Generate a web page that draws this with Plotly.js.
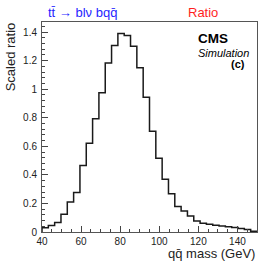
<!DOCTYPE html>
<html><head><meta charset="utf-8">
<script src="https://cdn.plot.ly/plotly-3.0.1.min.js"></script>
<style>html,body{margin:0;padding:0;background:#fff;}#chart{width:266px;height:266px;}</style>
</head><body><div id="chart"></div>
<script>
// Histogram settings
const xMin = 40, xMax = 150, nBins = 34;
// Scaled ratio per bin
const values = [0.030, 0.045, 0.067, 0.125, 0.210, 0.277, 0.465, 0.622, 0.793, 0.975,
                1.183, 1.305, 1.390, 1.375, 1.300, 1.150, 0.943, 0.706, 0.517, 0.370,
                0.267, 0.178, 0.147, 0.112, 0.077, 0.061, 0.054, 0.048, 0.042, 0.036,
                0.031, 0.025, 0.018, 0.006];
const xTicks = [40, 60, 80, 100, 120, 140];
const yTicks = [0, 0.2, 0.4, 0.6, 0.8, 1, 1.2, 1.4];
const labelLeft = "tt\u0304 \u2192 bl\u03bd bqq\u0304";
const labelRight = "Ratio";
const xTitle = "qq\u0304 mass (GeV)";
const yTitle = "Scaled ratio";

const w = (xMax - xMin) / nBins;
const xs = [xMin], ys = [0];
values.forEach((v, i) => { xs.push(xMin + i * w); ys.push(v); });
xs.push(xMax); ys.push(0);

const font = "Liberation Sans, Arial, sans-serif";
Plotly.newPlot('chart', [{
  x: xs, y: ys, type: 'scatter', mode: 'lines',
  line: {shape: 'hv', color: '#1a1a1a', width: 1.5},
  hoverinfo: 'skip'
}], {
  width: 266, height: 266,
  margin: {l: 42, r: 9, t: 22, b: 34},
  paper_bgcolor: '#fff', plot_bgcolor: '#fff',
  showlegend: false,
  font: {family: font, color: '#222'},
  xaxis: {
    range: [xMin, xMax], tickvals: xTicks, ticks: 'inside', ticklen: 6, tickcolor: '#444',
    showgrid: false, zeroline: false, showline: true, mirror: true, linecolor: '#555', linewidth: 1,
    tickfont: {size: 10, color: '#222'},
    minor: {ticks: 'inside', ticklen: 3, dtick: 5, tickcolor: '#444', showgrid: false}
  },
  yaxis: {
    range: [0, 1.47], tickvals: yTicks, ticks: 'inside', ticklen: 6, tickcolor: '#444',
    showgrid: false, zeroline: false, showline: true, mirror: true, linecolor: '#555', linewidth: 1,
    tickfont: {size: 10, color: '#222'}, ticklabelstandoff: 2,
    minor: {ticks: 'inside', ticklen: 3, dtick: 0.04, tickcolor: '#444', showgrid: false}
  },
  annotations: [
    {text: labelLeft, xref: 'paper', yref: 'paper', x: 0.019, y: 1.045, xanchor: 'left', yanchor: 'middle',
     showarrow: false, font: {size: 13, color: '#1f1fff', family: font}},
    {text: labelRight, xref: 'paper', yref: 'paper', x: 0.749, y: 1.045, xanchor: 'center', yanchor: 'middle',
     showarrow: false, font: {size: 13, color: '#ff1f1f', family: font}},
    {text: '<b>CMS</b>', xref: 'paper', yref: 'paper', x: 0.716, y: 0.922, xanchor: 'left', yanchor: 'middle',
     showarrow: false, font: {size: 13.5, color: '#000', family: font}},
    {text: '<i>Simulation</i>', xref: 'paper', yref: 'paper', x: 0.716, y: 0.852, xanchor: 'left', yanchor: 'middle',
     showarrow: false, font: {size: 11, color: '#000', family: font}},
    {text: '<b>(c)</b>', xref: 'paper', yref: 'paper', x: 0.953, y: 0.800, xanchor: 'right', yanchor: 'middle',
     showarrow: false, font: {size: 11, color: '#000', family: font}},
    {text: yTitle, xref: 'paper', yref: 'paper', x: -0.149, y: 1.01, xanchor: 'center', yanchor: 'top',
     textangle: -90, showarrow: false, font: {size: 13, color: '#222', family: font}},
    {text: xTitle, xref: 'paper', yref: 'paper', x: 1.0, y: -0.1, xanchor: 'right', yanchor: 'middle',
     showarrow: false, font: {size: 13, color: '#222', family: font}}
  ]
}, {staticPlot: true, displayModeBar: false});
</script></body></html>
